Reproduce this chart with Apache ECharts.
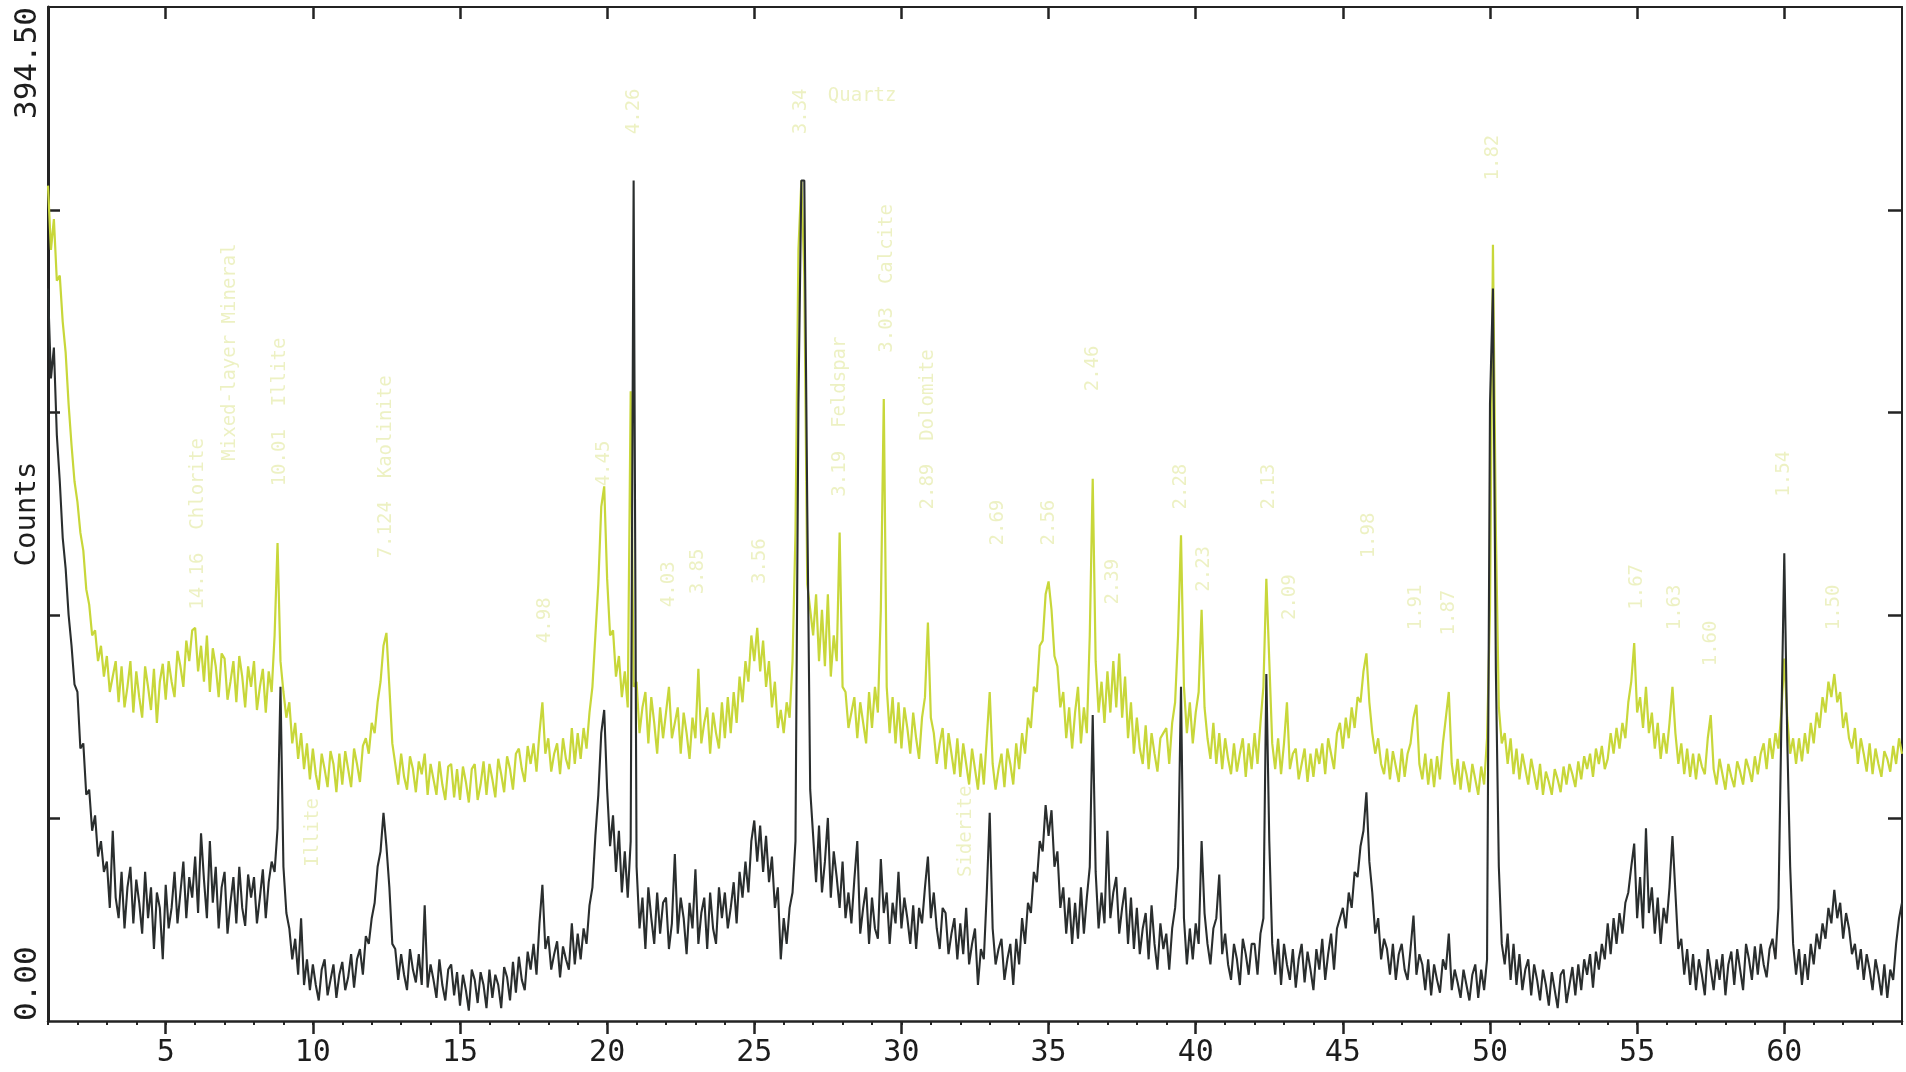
<!DOCTYPE html>
<html>
<head>
<meta charset="utf-8">
<title>XRD pattern</title>
<script src="https://cdn.jsdelivr.net/npm/echarts@6/dist/echarts.min.js"></script>
<style>
  html, body { margin: 0; padding: 0; background: #fff; }
  #chart { width: 1906px; height: 1072px; }
</style>
</head>
<body>
<div id="chart"></div>
<script>
// 2-theta grid of the scan (degrees)
const twoThetaStart = 1.0;
const twoThetaStep = 0.1;

// lower (black) pattern, one row per degree
const sampleCounts = [
  285, 250, 262, 228, 210, 188, 176, 158, 146, 131,
  128, 106, 108, 88, 90, 74, 80, 64, 70, 58,
  62, 44, 74, 48, 40, 58, 36, 52, 60, 38,
  55, 46, 34, 58, 40, 52, 28, 50, 44, 24,
  53, 36, 44, 58, 38, 50, 62, 40, 56, 48,
  64, 42, 73, 55, 40, 70, 46, 60, 36, 52,
  58, 34, 46, 56, 38, 60, 44, 37, 57, 48,
  56, 38, 48, 59, 40, 54, 62, 58, 75, 130,
  60, 42, 36, 24, 32, 18, 40, 14, 24, 12,
  22, 14, 8, 20, 24, 10, 16, 22, 9, 18,
  23, 12, 17, 26, 13, 24, 28, 18, 33, 30,
  40, 46, 60, 66, 81, 68, 52, 30, 28, 16,
  26, 18, 12, 28, 20, 15, 26, 14, 45, 13,
  22, 16, 9, 24, 14, 8, 20, 22, 10, 19,
  6, 18, 12, 4, 20, 16, 7, 19, 14, 5,
  20, 9, 18, 14, 5, 21, 17, 8, 23, 11,
  25, 16, 12, 27, 20, 30, 18, 38, 53, 28,
  33, 20, 26, 31, 17, 29, 24, 20, 38, 22,
  34, 24, 36, 30, 45, 52, 72, 88, 112, 121,
  90, 68, 80, 58, 74, 50, 66, 48, 70, 327,
  60, 36, 48, 28, 52, 40, 30, 50, 34, 46,
  48, 28, 38, 65, 34, 48, 40, 26, 46, 36,
  59, 30, 42, 48, 28, 50, 36, 30, 52, 40,
  50, 36, 44, 54, 38, 58, 48, 62, 50, 70,
  78, 62, 76, 58, 72, 54, 64, 44, 52, 24,
  40, 30, 44, 50, 70, 240, 327, 327, 200, 90,
  72, 54, 76, 50, 62, 79, 48, 66, 56, 44,
  62, 40, 50, 38, 55, 70, 34, 44, 52, 30,
  48, 36, 32, 63, 42, 50, 30, 46, 38, 58,
  36, 48, 40, 30, 45, 28, 44, 38, 52, 64,
  40, 50, 36, 28, 44, 42, 26, 34, 40, 24,
  38, 26, 44, 22, 30, 36, 14, 28, 24, 50,
  81, 36, 22, 28, 32, 16, 24, 30, 14, 32,
  22, 40, 30, 46, 42, 58, 54, 70, 66, 84,
  72, 82, 60, 66, 44, 52, 34, 48, 30, 46,
  32, 52, 34, 48, 60, 119, 58, 36, 50, 38,
  74, 40, 50, 56, 34, 44, 52, 30, 48, 28,
  44, 26, 36, 42, 24, 45, 30, 20, 38, 28,
  34, 20, 36, 44, 60, 130, 40, 22, 36, 24,
  38, 30, 70, 42, 30, 22, 36, 40, 57, 26,
  34, 22, 16, 30, 24, 14, 32, 26, 18, 30,
  30, 18, 34, 40, 135, 70, 30, 18, 32, 14,
  30, 22, 16, 28, 13, 24, 30, 15, 27, 20,
  12, 28, 20, 32, 16, 26, 34, 20, 36, 40,
  44, 36, 50, 44, 58, 56, 68, 74, 89, 62,
  50, 34, 40, 24, 32, 28, 18, 30, 16, 26,
  30, 20, 16, 28, 41, 18, 26, 22, 12, 24,
  10, 22, 16, 11, 24, 20, 34, 12, 20, 15,
  9, 20, 14, 8, 18, 22, 9, 20, 12, 24,
  240, 285, 136, 60, 30, 22, 34, 16, 30, 14,
  26, 12, 20, 24, 10, 22, 16, 8, 20, 14,
  6, 19, 12, 5, 18, 20, 7, 14, 21, 10,
  22, 12, 24, 18, 26, 13, 27, 20, 30, 24,
  38, 26, 40, 30, 42, 34, 46, 50, 60, 69,
  40, 56, 36, 75, 42, 52, 34, 48, 30, 44,
  38, 52, 72, 50, 28, 32, 18, 28, 14, 26,
  12, 24, 18, 10, 28, 20, 12, 24, 16, 26,
  10, 22, 27, 14, 28, 20, 12, 30, 24, 16,
  29, 18, 30, 22, 17, 28, 32, 24, 44, 115,
  182, 110, 60, 30, 18, 28, 14, 26, 16, 30,
  22, 34, 28, 38, 32, 44, 38, 51, 40, 46,
  32, 42, 36, 26, 30, 20, 28, 16, 26, 20,
  12, 24, 18, 10, 22, 9, 20, 16, 30, 40,
  46
];

// upper (yellow-green) pattern, same grid
const upperCounts = [
  325, 300, 312, 288, 290, 272, 260, 240, 224, 210,
  202, 190, 183, 168, 162, 150, 152, 140, 146, 134,
  142, 128, 134, 140, 124, 138, 122, 130, 140, 120,
  136, 126, 118, 138, 130, 121, 137, 116, 132, 139,
  125, 140, 132, 126, 144, 138, 130, 148, 140, 152,
  153, 136, 146, 132, 150, 128, 145, 138, 126, 143,
  141, 125, 132, 140, 124, 142, 134, 122, 138, 130,
  140, 121, 130, 137, 120, 136, 128, 150, 186, 140,
  128, 118, 124, 108, 116, 102, 112, 98, 108, 94,
  106, 96, 90, 104, 98, 91, 105, 100, 89, 104,
  92, 105, 98, 91, 106, 100, 93, 107, 110, 104,
  116, 112, 124, 132, 146, 151, 130, 108, 100, 92,
  104, 95, 90, 103, 98, 89, 101, 96, 104, 88,
  100, 94, 88, 101, 92, 86, 99, 100, 87, 98,
  86, 99, 93, 85, 98, 100, 86, 92, 101, 88,
  100, 94, 87, 102, 96, 89, 103, 98, 90, 104,
  106, 98, 93, 107, 100, 108, 97, 112, 124, 104,
  110, 97, 104, 108, 96, 110, 102, 98, 114, 100,
  112, 102, 114, 106, 120, 130, 150, 170, 200, 208,
  172, 150, 152, 134, 142, 126, 136, 122, 245, 130,
  132, 112, 122, 128, 108, 126, 116, 104, 122, 110,
  120, 130, 110, 116, 122, 104, 120, 112, 102, 118,
  110, 137, 108, 116, 122, 104, 120, 112, 106, 124,
  110, 126, 112, 128, 116, 134, 124, 140, 132, 150,
  140, 153, 136, 148, 130, 140, 122, 132, 114, 121,
  112, 124, 118, 140, 190, 300, 327, 290, 170, 160,
  150, 166, 140, 160, 138, 166, 134, 150, 140, 190,
  130, 128, 114, 120, 126, 110, 124, 116, 108, 128,
  114, 130, 120, 160, 242, 130, 112, 126, 108, 124,
  106, 122, 114, 104, 120, 110, 102, 118, 126, 155,
  118, 112, 100, 108, 114, 98, 112, 104, 96, 110,
  95, 108, 100, 92, 106, 98, 90, 104, 92, 110,
  128, 100, 90, 98, 104, 91, 106, 100, 92, 108,
  98, 112, 104, 118, 114, 130, 128, 146, 148, 166,
  171, 160, 142, 138, 122, 128, 110, 122, 106, 120,
  130, 108, 122, 112, 150, 211, 140, 120, 132, 116,
  136, 120, 140, 122, 143, 118, 134, 110, 124, 104,
  118, 106, 100, 115, 98, 112, 104, 97, 110, 112,
  114, 100, 116, 124, 150, 189, 130, 112, 124, 108,
  120, 128, 160, 122, 110, 102, 116, 100, 112, 98,
  110, 102, 96, 108, 97, 104, 110, 95, 108, 98,
  112, 100, 116, 130, 172, 140, 108, 98, 110, 96,
  108, 124, 98, 104, 106, 94, 100, 106, 93, 104,
  95, 106, 100, 108, 96, 110, 104, 98, 112, 116,
  106, 118, 110, 122, 114, 126, 124, 136, 143, 124,
  112, 104, 110, 100, 96, 106, 94, 105, 99, 93,
  106, 95, 104, 108, 118, 123, 100, 94, 104, 92,
  102, 91, 103, 94, 108, 118, 128, 100, 92, 102,
  90, 101, 96, 89, 100, 94, 88, 99, 92, 110,
  160, 302, 190, 122, 108, 112, 100, 110, 96, 106,
  94, 104, 98, 92, 102, 96, 90, 100, 88, 97,
  93, 88, 98, 94, 89, 99, 92, 100, 96, 91,
  101, 94, 103, 98, 104, 95, 106, 100, 107, 98,
  102, 112, 104, 114, 106, 116, 110, 124, 132, 147,
  120, 126, 114, 130, 112, 120, 106, 116, 102, 112,
  104, 116, 130, 112, 100, 108, 96, 106, 95, 104,
  94, 104, 99, 96, 110, 119, 98, 92, 102, 96,
  90, 100, 95, 91, 101, 97, 92, 102, 98, 93,
  103, 96, 104, 108, 98, 110, 102, 112, 106, 120,
  141, 118, 104, 110, 100, 110, 101, 112, 104, 116,
  108, 120, 114, 126, 120, 132, 126, 135, 124, 128,
  114, 120, 110, 106, 114, 100, 110, 104, 97, 108,
  96, 106, 100, 95, 105, 102, 97, 107, 100, 110,
  104
];

// axis ticks and labels
const xMajorTicks = [5, 10, 15, 20, 25, 30, 35, 40, 45, 50, 55, 60];
const xMinorTicks = Array.from({ length: 64 }, (_, i) => i + 1);
const yMin = 0;
const yMax = 394.5;
const yInnerTicks = [78.9, 157.8, 236.7, 315.6];
const yEndLabels = ['0.00', '394.50'];

// faint peak annotations: [2theta, counts at text start, text]
const peakNotes = [
  [6.1, 160, '14.16  Chlorite'],
  [7.2, 218, 'Mixed-layer Mineral'],
  [8.9, 208, '10.01  Illite'],
  [10.0, 60, 'Illite'],
  [12.5, 180, '7.124  Kaolinite'],
  [17.9, 147, '4.98'],
  [19.9, 208, '4.45'],
  [20.9, 345, '4.26'],
  [22.1, 161, '4.03'],
  [23.1, 166, '3.85'],
  [25.2, 170, '3.56'],
  [26.6, 345, '3.34'],
  [27.9, 204, '3.19  Feldspar'],
  [29.5, 260, '3.03  Calcite'],
  [30.9, 199, '2.89  Dolomite'],
  [32.2, 56, 'Siderite'],
  [33.3, 185, '2.69'],
  [35.0, 185, '2.56'],
  [36.5, 245, '2.46'],
  [37.2, 162, '2.39'],
  [39.5, 199, '2.28'],
  [40.3, 167, '2.23'],
  [42.5, 199, '2.13'],
  [43.2, 156, '2.09'],
  [45.9, 180, '1.98'],
  [47.5, 152, '1.91'],
  [48.6, 150, '1.87'],
  [50.1, 327, '1.82'],
  [55.0, 160, '1.67'],
  [56.3, 152, '1.63'],
  [57.5, 138, '1.60'],
  [60.0, 204, '1.54'],
  [61.7, 152, '1.50']
];
const quartzNote = [27.5, 360, 'Quartz'];

const toPoints = arr => arr.map((v, i) => [+(twoThetaStart + i * twoThetaStep).toFixed(1), v]);

const axisColor = '#232323';
const monoFont = "'DejaVu Sans Mono', 'Liberation Mono', monospace";
const noteColor = 'rgba(206, 216, 88, 0.45)';

const chart = echarts.init(document.getElementById('chart'));

const option = {
  animation: false,
  backgroundColor: '#ffffff',
  grid: { left: 48, right: 4, top: 7, bottom: 51, containLabel: false, outerBoundsMode: 'none' },
  xAxis: [
    {
      type: 'value', position: 'bottom', min: 1, max: 64,
      axisLine: { onZero: false, lineStyle: { color: axisColor, width: 2.5 } },
      axisTick: { customValues: xMajorTicks, length: 13, lineStyle: { color: axisColor, width: 2.5 } },
      axisLabel: { customValues: xMajorTicks, margin: 17, color: '#1d1d1d', fontFamily: monoFont, fontSize: 30 },
      splitLine: { show: false }
    },
    {
      type: 'value', position: 'bottom', min: 1, max: 64,
      axisLine: { show: false, onZero: false },
      axisTick: { customValues: xMinorTicks, length: 4, lineStyle: { color: axisColor, width: 2 } },
      axisLabel: { show: false },
      splitLine: { show: false }
    },
    {
      type: 'value', position: 'top', min: 1, max: 64,
      axisLine: { onZero: false, lineStyle: { color: axisColor, width: 2 } },
      axisTick: { inside: true, customValues: xMajorTicks, length: 12, lineStyle: { color: axisColor, width: 2.5 } },
      axisLabel: { show: false },
      splitLine: { show: false }
    }
  ],
  yAxis: [
    {
      type: 'value', position: 'left', min: yMin, max: yMax,
      name: 'Counts', nameLocation: 'middle', nameRotate: 90, nameGap: 6,
      nameMoveOverlap: false,
      nameTextStyle: { color: '#1d1d1d', fontFamily: monoFont, fontSize: 29 },
      axisLine: { show: true, onZero: false, lineStyle: { color: axisColor, width: 3 } },
      axisTick: { inside: true, customValues: yInnerTicks, length: 12, lineStyle: { color: axisColor, width: 2.5 } },
      axisLabel: {
        customValues: [yMin], formatter: () => yEndLabels[0],
        rotate: 90, align: 'left', verticalAlign: 'bottom', margin: 5,
        color: '#1d1d1d', fontFamily: monoFont, fontSize: 31
      },
      splitLine: { show: false }
    },
    {
      type: 'value', position: 'left', min: yMin, max: yMax,
      axisLine: { show: false, onZero: false },
      axisTick: { show: false },
      axisLabel: {
        customValues: [yMax], formatter: () => yEndLabels[1],
        rotate: 90, align: 'right', verticalAlign: 'bottom', margin: 5,
        color: '#1d1d1d', fontFamily: monoFont, fontSize: 31
      },
      splitLine: { show: false }
    },
    {
      type: 'value', position: 'right', min: yMin, max: yMax,
      axisLine: { show: true, onZero: false, lineStyle: { color: axisColor, width: 2 } },
      axisTick: { inside: true, customValues: yInnerTicks, length: 14, lineStyle: { color: axisColor, width: 2.5 } },
      axisLabel: { show: false },
      splitLine: { show: false }
    }
  ],
  series: [
    {
      name: 'peak notes',
      type: 'scatter',
      silent: true,
      symbolSize: 1,
      itemStyle: { color: 'rgba(0,0,0,0)' },
      data: peakNotes.concat([{ value: quartzNote, label: { rotate: 0 } }]),
      label: {
        show: true,
        position: 'inside',
        formatter: p => p.value[2],
        rotate: 90,
        align: 'left',
        verticalAlign: 'middle',
        color: noteColor,
        fontFamily: monoFont,
        fontSize: 19
      },
      z: 1
    },
    {
      name: 'upper pattern',
      type: 'line',
      silent: true,
      showSymbol: false,
      symbol: 'none',
      data: toPoints(upperCounts),
      lineStyle: { color: '#c8d73a', width: 2.2 },
      z: 2
    },
    {
      name: 'sample pattern',
      type: 'line',
      silent: true,
      showSymbol: false,
      symbol: 'none',
      data: toPoints(sampleCounts),
      lineStyle: { color: '#2a2e2e', width: 2.1 },
      z: 3
    }
  ]
};

chart.setOption(option);
</script>
</body>
</html>
